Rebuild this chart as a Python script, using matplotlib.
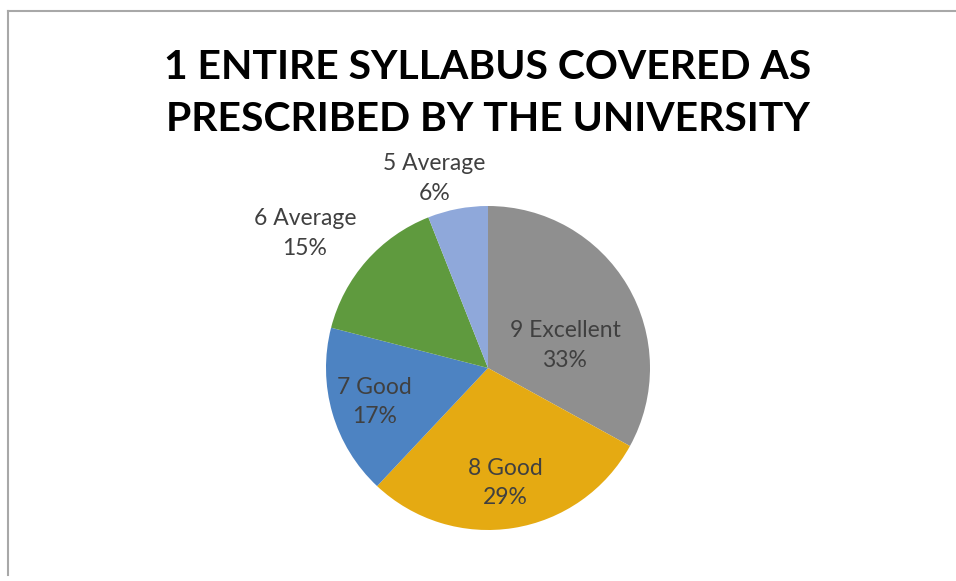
import matplotlib.pyplot as plt
from matplotlib.lines import Line2D

# data
categories = ['9 Excellent', '8 Good', '7 Good', '6 Average', '5 Average']
percents = [33, 29, 17, 15, 6]
colors = ['#8f8f8f', '#e5aa12', '#4d83c2', '#5f9a3e', '#8fa8da']
# label positions (data units, pie radius = 1)
label_pos = [(0.475, 0.14), (0.105, -0.71), (-0.70, -0.21), (-1.13, 0.83), (-0.33, 1.17)]

plt.rcParams['font.family'] = ['Lato', 'DejaVu Sans']

fig = plt.figure(figsize=(9.56, 5.81), dpi=100)

# frame lines (top and left)
fig.add_artist(Line2D([7.5 / 956, 1], [1 - 10.5 / 581, 1 - 10.5 / 581], color='#a8a8a8', lw=1.5))
fig.add_artist(Line2D([7.5 / 956, 7.5 / 956], [0.01, 1 - 10.5 / 581], color='#a8a8a8', lw=1.5))

fig.text(487.5 / 956, 1 - 93.5 / 581,
         '1 ENTIRE SYLLABUS COVERED AS\nPRESCRIBED BY THE UNIVERSITY',
         ha='center', va='center', fontsize=29.4, fontweight='bold',
         color='black', linespacing=1.52)

cx, cy, r = 488, 368, 162
ax = fig.add_axes([(cx - r) / 956, 1 - (cy + r) / 581, 2 * r / 956, 2 * r / 581])
ax.pie(percents, colors=colors, startangle=90, counterclock=False, radius=1,
       wedgeprops=dict(linewidth=0))
ax.set_xlim(-1, 1)
ax.set_ylim(-1, 1)
ax.set_aspect('auto')
ax.axis('off')

for name, p, (x, y) in zip(categories, percents, label_pos):
    ax.text(x, y, f'{name}\n{p}%', ha='center', va='center', fontsize=16.5,
            color='#404040', linespacing=1.5, clip_on=False)

fig.savefig('out.png', dpi=100)
